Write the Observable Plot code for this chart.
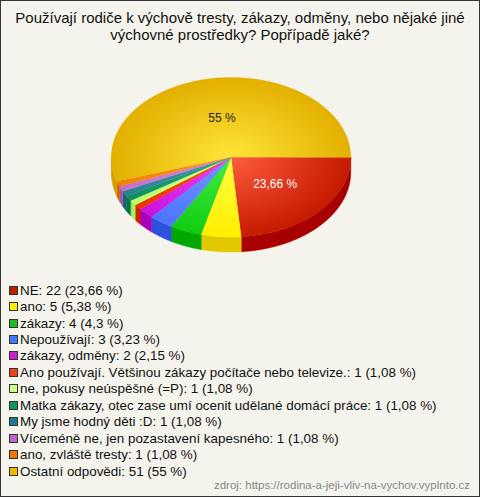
<!DOCTYPE html>
<html><head><meta charset="utf-8">
<script src="https://cdn.jsdelivr.net/npm/d3@7"></script>
<script src="https://cdn.jsdelivr.net/npm/@observablehq/plot@0.6"></script>
<style>
body{margin:0;background:#fff;}
#frame{position:relative;width:480px;height:497px;box-sizing:border-box;border:1px solid #333;background:#f4f4ec;font-family:"Liberation Sans",Arial,sans-serif;overflow:hidden;}
#title{position:absolute;top:8px;left:0;width:478px;text-align:center;font-size:15px;line-height:17px;color:#111;}
#chart{position:absolute;left:-1px;top:49px;}
#legend{position:absolute;left:8px;top:281px;font-size:13.4px;color:#111;}
.row{display:flex;align-items:center;white-space:nowrap;height:16.45px;}
.sw{width:7px;height:7px;border:1px solid #333;margin-right:2px;flex:none;}
#source{position:absolute;right:9px;top:478px;font-size:11.5px;color:#888;}
</style></head><body>
<div id="frame">
<div id="title">Používají rodiče k výchově tresty, zákazy, odměny, nebo nějaké jiné<br>výchovné prostředky? Popřípadě jaké?</div>
<div id="chart"></div>
<div id="legend"></div>
<div id="source">zdroj: https://rodina-a-jeji-vliv-na-vychov.vyplnto.cz</div>
</div>
<script>
const categories = [
  "NE", "ano", "zákazy", "Nepoužívají", "zákazy, odměny",
  "Ano používají. Většinou zákazy počítače nebo televize.",
  "ne, pokusy neúspěšné (=P)",
  "Matka zákazy, otec zase umí ocenit udělané domácí práce",
  "My jsme hodný děti :D",
  "Víceméně ne, jen pozastavení kapesného",
  "ano, zvláště tresty",
  "Ostatní odpovědi"
];
const counts = [22, 5, 4, 3, 2, 1, 1, 1, 1, 1, 1, 51];
const percents = ["23,66", "5,38", "4,3", "3,23", "2,15", "1,08", "1,08", "1,08", "1,08", "1,08", "1,08", "55"];
const legendColors = ["#b82000", "#ffee00", "#22bb22", "#4477ff", "#cc22cc", "#ee4411", "#ccff88", "#119955", "#227788", "#bb66cc", "#ee7700", "#eebb00"];
const topInner = ["#ff5c40", "#ffff44", "#44ee44", "#6f9cff", "#ee44ff", "#ff4a1a", "#ddff99", "#22aa77", "#4499aa", "#dd88dd", "#ff9922", "#ffe53a"];
const topOuter = ["#c41a00", "#ffee00", "#11cc11", "#4c74ff", "#cc11dd", "#e83300", "#bbff66", "#0d9060", "#2a8090", "#c070c8", "#f08000", "#e2b000"];
const sideColors = ["#a80000", "#e2c800", "#00a800", "#2d52dd", "#a800b8", "#cc2200", "#aaee55", "#007744", "#116677", "#aa55aa", "#cc6600", "#d4a000"];
const labelColors = ["#ffffff", null, null, null, null, null, null, null, null, null, null, "#222222"];

const W = 480, H = 220;
const cx = 231, cy = 107, rx = 120, ry = 80, depth = 15;
const total = d3.sum(counts);
let acc = 0;
const slices = counts.map((c, i) => {
  const a0 = acc / total * 2 * Math.PI; acc += c;
  const a1 = acc / total * 2 * Math.PI;
  return {i, a0, a1};
});
const arcPts = (t0, t1, dy) => {
  const n = Math.max(2, Math.ceil((t1 - t0) / (Math.PI / 360)));
  return d3.range(n + 1).map(j => {
    const t = t0 + (t1 - t0) * j / n;
    return [cx + rx * Math.cos(t), cy + ry * Math.sin(t) + dy];
  });
};
const marks = [];
// side walls (front half only)
slices.forEach(s => {
  if (s.a0 >= Math.PI) return;
  const t0 = s.a0, t1 = Math.min(s.a1, Math.PI);
  const pts = arcPts(t0, t1, 0).concat(arcPts(t0, t1, depth).reverse()).map(([x, y]) => ({x, y}));
  marks.push(Plot.line(pts, {x: "x", y: "y", fill: sideColors[s.i], stroke: sideColors[s.i], strokeWidth: 0.5, curve: "linear-closed"}));
});
// tops
slices.forEach(s => {
  const pts = [[cx, cy]].concat(arcPts(s.a0, s.a1, 0)).map(([x, y]) => ({x, y}));
  marks.push(Plot.line(pts, {x: "x", y: "y", fill: `url(#g${s.i})`, stroke: topOuter[s.i], strokeWidth: 0.3, curve: "linear-closed"}));
});
// labels for large slices
const labels = slices.filter(s => labelColors[s.i]).map(s => {
  const m = (s.a0 + s.a1) / 2;
  return {x: cx + 0.5 * rx * Math.cos(m), y: cy + 0.5 * ry * Math.sin(m), text: percents[s.i] + " %", c: labelColors[s.i]};
});
labels.forEach(l => marks.push(Plot.text([l], {x: "x", y: "y", text: "text", fill: l.c, fontSize: 12, fontFamily: "Liberation Sans, Arial, sans-serif"})));

const svg = Plot.plot({
  width: W, height: H, margin: 0,
  style: {background: "transparent", overflow: "visible"},
  x: {domain: [0, W], range: [0, W], axis: null},
  y: {domain: [0, H], range: [0, H], axis: null},
  marks
});
const defs = d3.select(svg).insert("defs", ":first-child");
slices.forEach(s => {
  const g = defs.append("radialGradient").attr("id", `g${s.i}`)
    .attr("gradientUnits", "userSpaceOnUse")
    .attr("cx", cx).attr("cy", cy).attr("r", rx)
    .attr("gradientTransform", `translate(${cx},${cy}) scale(1,${ry / rx}) translate(${-cx},${-cy})`);
  g.append("stop").attr("offset", "0").attr("stop-color", topInner[s.i]);
  g.append("stop").attr("offset", "1").attr("stop-color", topOuter[s.i]);
});
document.getElementById("chart").appendChild(svg);

const legend = document.getElementById("legend");
categories.forEach((c, i) => {
  const row = document.createElement("div"); row.className = "row";
  const sw = document.createElement("span"); sw.className = "sw"; sw.style.background = legendColors[i];
  const t = document.createElement("span"); t.textContent = `${c}: ${counts[i]} (${percents[i]} %)`;
  row.appendChild(sw); row.appendChild(t); legend.appendChild(row);
});
</script>
</body></html>
